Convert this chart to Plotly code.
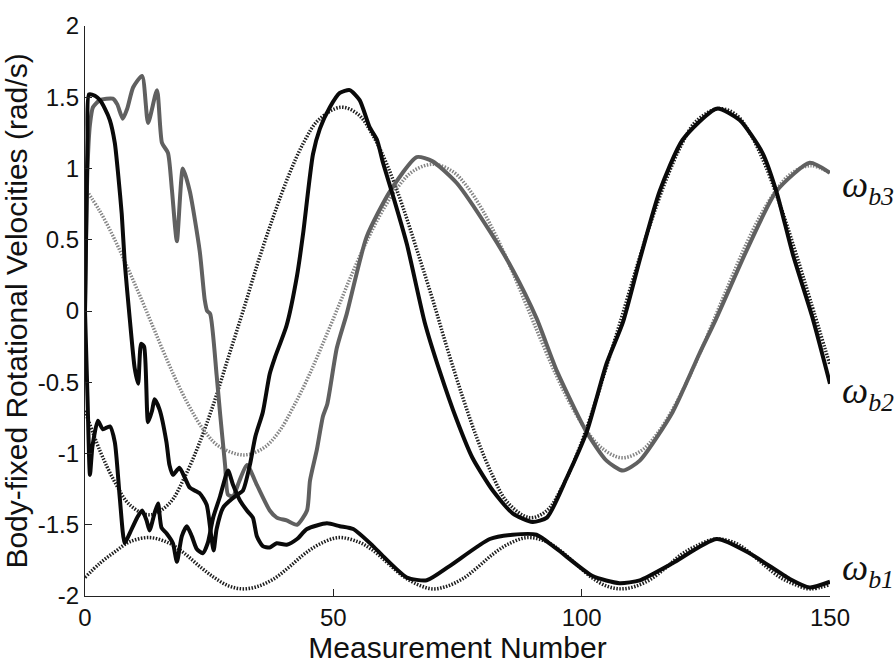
import plotly.graph_objects as go

# ---- estimated body rates (solid) ----
wb1_est_x = [0, 0.5, 1, 1.5, 2.6, 3.6, 5, 6, 7, 8, 9, 10.5, 11.5, 12.4, 13, 14, 14.7, 15.4, 16.4,
             17.7, 18.5, 19.5, 20.5, 21.5, 22.5, 23.7, 24.7, 25.8, 27.2, 28.8, 29.8, 31.2, 32.6,
             33.8, 34.6, 35.8, 37.2, 38.6, 40.6, 42.7, 44.7, 48.7, 51.3, 54, 58, 60, 64.8, 68.8,
             73.4, 81.5, 86.1, 90.9, 95, 102.2, 107.6, 111.7, 118.3, 127.2, 133.8, 141.9, 145.9, 150]
wb1_est_y = [0.0, -0.6, -1.15, -0.95, -0.77, -0.83, -0.81, -0.92, -1.31, -1.63, -1.56, -1.45, -1.40,
             -1.47, -1.54, -1.42, -1.35, -1.52, -1.56, -1.63, -1.76, -1.58, -1.51, -1.58, -1.67,
             -1.70, -1.63, -1.45, -1.30, -1.12, -1.22, -1.33, -1.40, -1.45, -1.58, -1.65, -1.66,
             -1.63, -1.64, -1.60, -1.53, -1.49, -1.51, -1.53, -1.65, -1.72, -1.87, -1.89, -1.79,
             -1.60, -1.57, -1.57, -1.67, -1.86, -1.91, -1.89, -1.77, -1.60, -1.70, -1.88, -1.94, -1.90]

wb2_est_x = [0, 0.5, 0.8, 2, 3, 4, 5, 6, 6.7, 7.4, 8, 9, 10, 10.7, 11.3, 11.9, 12.7, 13.5, 14, 15,
             16.4, 17, 17.7, 19, 20.1, 21.1, 23.1, 24.5, 25.3, 25.9, 26.5, 27.8, 29.2, 30.6, 31.8,
             33.2, 34.3, 35.8, 37.2, 38.2, 40.6, 42.7, 43.9, 45.9, 47.3, 49.3, 51.3, 53.3, 55.3,
             57.3, 58.8, 60, 62, 64.8, 68.4, 71.4, 74.8, 78, 82.1, 86.1, 90.1, 93, 97, 101, 105,
             108.3, 111.7, 115.7, 120.3, 127.2, 131.8, 136.4, 139.2, 142.5, 146.5, 150]
wb2_est_y = [0.0, 1.2, 1.52, 1.51, 1.48, 1.42, 1.34, 1.18, 0.95, 0.68, 0.34, -0.05, -0.40, -0.51,
             -0.23, -0.25, -0.78, -0.70, -0.62, -0.69, -0.92, -1.08, -1.15, -1.10, -1.17, -1.24,
             -1.28, -1.36, -1.55, -1.68, -1.53, -1.38, -1.33, -1.29, -1.26, -1.08, -0.88, -0.71,
             -0.44, -0.33, -0.10, 0.25, 0.54, 1.10, 1.28, 1.43, 1.53, 1.55, 1.48, 1.29, 1.20, 1.04,
             0.81, 0.47, -0.08, -0.42, -0.76, -1.03, -1.26, -1.42, -1.48, -1.45, -1.17, -0.85,
             -0.37, -0.08, 0.36, 0.84, 1.20, 1.42, 1.34, 1.11, 0.84, 0.40, -0.05, -0.51]

wb3_est_x = [0, 0.5, 1, 1.6, 3, 5.6, 6.5, 7.6, 8.5, 9.7, 11.5, 12.7, 14.5, 15.5, 16.7, 17.5, 18.5,
             19.7, 21.1, 23.1, 24.1, 24.6, 25.2, 26.5, 27.2, 28.2, 28.8, 29.8, 31, 32.6, 34.6, 37.2,
             38.6, 40.6, 42.7, 44.7, 45.3, 46.7, 47.9, 48.8, 50.7, 52.7, 56.7, 61.4, 66.8, 70, 74.8,
             81.5, 86.1, 90.9, 95, 101, 105, 108.3, 111.7, 118.3, 123.7, 127, 133.8, 139.2, 145.9, 150]
wb3_est_y = [0.0, 1.0, 1.31, 1.43, 1.48, 1.49, 1.45, 1.35, 1.42, 1.57, 1.65, 1.32, 1.55, 1.18, 1.11,
             0.85, 0.49, 1.00, 0.84, 0.42, 0.08, 0.0, -0.02, -0.45, -0.72, -1.08, -1.29, -1.30,
             -1.20, -1.08, -1.22, -1.40, -1.45, -1.47, -1.50, -1.40, -1.19, -0.97, -0.74, -0.65,
             -0.26, -0.02, 0.52, 0.84, 1.08, 1.05, 0.90, 0.56, 0.29, -0.05, -0.42, -0.85, -1.05,
             -1.12, -1.05, -0.71, -0.30, -0.06, 0.47, 0.84, 1.04, 0.97]

# ---- true body rates (dotted) ----
wb1_true_x = [0, 3, 6, 9, 13, 17, 20, 23, 26, 29, 32, 35, 38, 41, 44, 47, 51, 55, 58, 61, 64, 67,
              70, 73, 76, 79, 82, 85, 89, 93, 96, 99, 102, 105, 108, 111, 114, 117, 120, 123, 127,
              131, 134, 137, 140, 143, 146, 150]
wb1_true_y = [-1.87, -1.77, -1.69, -1.62, -1.59, -1.63, -1.70, -1.79, -1.87, -1.93, -1.95, -1.93,
              -1.88, -1.80, -1.71, -1.64, -1.59, -1.62, -1.68, -1.77, -1.86, -1.92, -1.95, -1.93,
              -1.88, -1.80, -1.71, -1.64, -1.59, -1.62, -1.69, -1.78, -1.87, -1.93, -1.95, -1.93,
              -1.88, -1.80, -1.71, -1.65, -1.60, -1.63, -1.70, -1.79, -1.87, -1.92, -1.95, -1.92]

wb2_true_x = [0, 3, 6, 9, 13, 17, 20, 23, 26, 29, 32, 35, 38, 41, 44, 47, 51.5, 55, 58, 61, 64, 67,
              70, 73, 76, 79, 82, 85, 89.5, 93, 96, 99, 102, 105, 108, 111, 114, 117, 120, 123,
              127.5, 131, 134, 137, 140, 143, 146, 150]
wb2_true_y = [-0.70, -0.98, -1.20, -1.36, -1.43, -1.35, -1.17, -0.93, -0.64, -0.31, 0.02, 0.36,
              0.67, 0.95, 1.18, 1.34, 1.43, 1.38, 1.23, 1.01, 0.73, 0.41, 0.08, -0.27, -0.60,
              -0.90, -1.15, -1.34, -1.45, -1.40, -1.24, -1.01, -0.72, -0.39, -0.05, 0.30, 0.63,
              0.92, 1.16, 1.33, 1.42, 1.38, 1.24, 1.02, 0.74, 0.42, 0.08, -0.38]

wb3_true_x = [0, 3, 6, 9, 12, 15, 18, 21, 24, 27, 32, 36, 39, 42, 45, 48, 51, 54, 57, 60, 63, 66,
              70, 74, 77, 80, 83, 86, 89, 92, 95, 98, 101, 104, 108, 112, 115, 118, 121, 124, 127,
              130, 133, 136, 139, 142, 146, 150]
wb3_true_y = [0.86, 0.70, 0.50, 0.27, 0.03, -0.22, -0.46, -0.67, -0.84, -0.95, -1.01, -0.96,
              -0.85, -0.67, -0.46, -0.22, 0.03, 0.28, 0.51, 0.71, 0.87, 0.98, 1.03, 0.98, 0.87,
              0.71, 0.51, 0.28, 0.03, -0.22, -0.46, -0.67, -0.84, -0.96, -1.03, -0.98, -0.87,
              -0.71, -0.51, -0.28, -0.03, 0.22, 0.46, 0.67, 0.84, 0.96, 1.02, 0.97]

y_ticks = [-2, -1.5, -1, -0.5, 0, 0.5, 1, 1.5, 2]
y_tick_text = ["-2", "-1.5", "-1", "-0.5", "0", "0.5", "1", "1.5", "2"]
x_ticks = [0, 50, 100, 150]

labels = ["\u03c9<sub>b3</sub>", "\u03c9<sub>b2</sub>", "\u03c9<sub>b1</sub>"]
label_y = [0.87, -0.58, -1.82]

BLACK = "#0a0a0a"
GRAY = "#606060"
DOT_BLACK = "#1e1e1e"
DOT_GRAY = "#858585"

fig = go.Figure()

# true rates first, estimates on top
for xs, ys, col in [(wb1_true_x, wb1_true_y, DOT_BLACK),
                    (wb2_true_x, wb2_true_y, DOT_BLACK),
                    (wb3_true_x, wb3_true_y, DOT_GRAY)]:
    fig.add_trace(go.Scatter(x=xs, y=ys, mode="lines", line_shape="spline",
                             line=dict(color=col, width=3.5, dash="1.5px,1.5px"),
                             showlegend=False, hoverinfo="skip"))

for xs, ys, col in [(wb3_est_x, wb3_est_y, GRAY),
                    (wb1_est_x, wb1_est_y, BLACK),
                    (wb2_est_x, wb2_est_y, BLACK)]:
    fig.add_trace(go.Scatter(x=xs, y=ys, mode="lines",
                             line=dict(color=col, width=4, shape="spline", smoothing=0.6),
                             showlegend=False, hoverinfo="skip"))

for txt, yv in zip(labels, label_y):
    fig.add_annotation(x=150, y=yv, xref="x", yref="y", text="<i>" + txt + "</i>",
                       showarrow=False, xanchor="left", yanchor="middle", xshift=10,
                       font=dict(family="Liberation Serif", size=37, color="#111"))

axis_font = dict(family="Liberation Sans, Arial", size=24, color="#111")
fig.update_xaxes(range=[0, 150], tickvals=x_ticks, ticks="inside", ticklen=7,
                 tickcolor="#222", showline=True, linecolor="#222", linewidth=1.2,
                 showgrid=False, zeroline=False, tickfont=axis_font,
                 title=dict(text="Measurement Number", standoff=4,
                            font=dict(family="Liberation Sans, Arial", size=30, color="#111")))
fig.update_yaxes(range=[-2, 2], tickvals=y_ticks, ticktext=y_tick_text, ticks="inside",
                 ticklen=7, tickcolor="#222", showline=True, linecolor="#222", linewidth=1.2,
                 showgrid=False, zeroline=False, tickfont=axis_font,
                 title=dict(text="Body-fixed Rotational Velocities (rad/s)", standoff=4,
                            font=dict(family="Liberation Sans, Arial", size=30, color="#111")))

fig.update_layout(width=896, height=668, plot_bgcolor="white", paper_bgcolor="white",
                  margin=dict(l=85, r=66, t=17, b=67))

fig.write_html("out.html")
